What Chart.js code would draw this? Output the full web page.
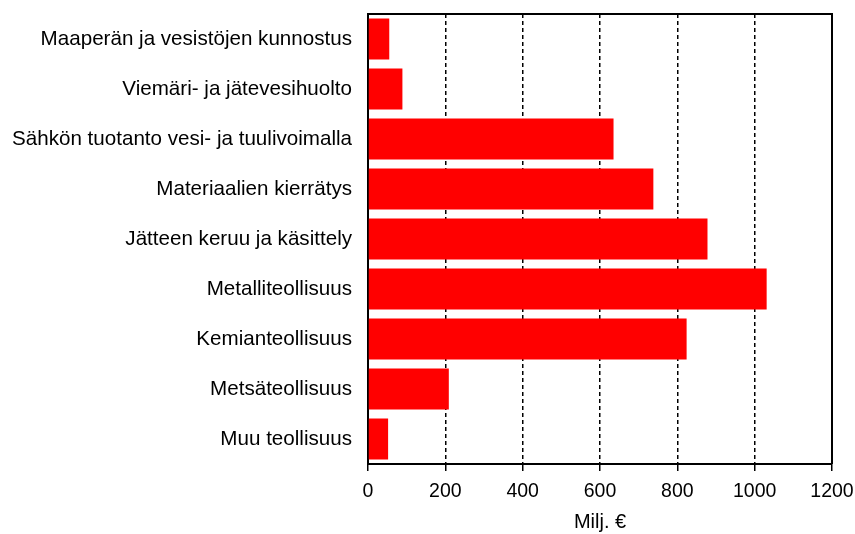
<!DOCTYPE html>
<html>
<head>
<meta charset="utf-8">
<script src="https://cdn.jsdelivr.net/npm/chart.js@4.4.1/dist/chart.umd.min.js"></script>
<style>
  html, body { margin: 0; padding: 0; background: #fff; }
  canvas { display: block; }
</style>
</head>
<body>
<canvas id="c" width="855" height="534"></canvas>
<script>
// luokat ja arvot (milj. €), luettu kuvasta
const categories = [
  'Maaperän ja vesistöjen kunnostus',
  'Viemäri- ja jätevesihuolto',
  'Sähkön tuotanto vesi- ja tuulivoimalla',
  'Materiaalien kierrätys',
  'Jätteen keruu ja käsittely',
  'Metalliteollisuus',
  'Kemianteollisuus',
  'Metsäteollisuus',
  'Muu teollisuus'
];
const values = [55, 89, 635, 738, 878, 1031, 824, 209, 52];
const xTicks = [0, 200, 400, 600, 800, 1000, 1200];
const axisTitle = 'Milj. €';

const FONT = '"Liberation Sans", Arial, sans-serif';

// kehys ylä- ja oikealle reunalle
const frame = {
  id: 'frame',
  afterDraw(chart) {
    const { ctx, chartArea: a } = chart;
    ctx.save();
    ctx.strokeStyle = '#000';
    ctx.lineWidth = 2;
    ctx.beginPath();
    ctx.moveTo(a.left, a.top);
    ctx.lineTo(a.right, a.top);
    ctx.lineTo(a.right, a.bottom);
    ctx.stroke();
    ctx.restore();
  }
};

new Chart(document.getElementById('c'), {
  type: 'bar',
  data: {
    labels: categories,
    datasets: [{
      data: values,
      backgroundColor: '#ff0000',
      borderColor: '#ff0000',
      borderWidth: 0,
      barPercentage: 0.82,
      categoryPercentage: 1
    }]
  },
  options: {
    indexAxis: 'y',
    animation: false,
    responsive: false,
    maintainAspectRatio: false,
    layout: { padding: { left: 0, right: 23, top: 14, bottom: 0 } },
    plugins: { legend: { display: false }, tooltip: { enabled: false } },
    scales: {
      x: {
        min: 0, max: 1200,
        afterBuildTicks: s => { s.ticks = xTicks.map(v => ({ value: v })); },
        afterFit: s => { s.height = 70; s.paddingLeft = 0; s.paddingRight = 0; },
        grid: {
          color: c => (c.tick && (c.tick.value === 0 || c.tick.value === 1200)) ? 'rgba(0,0,0,0)' : '#000',
          lineWidth: 1.5,
          tickColor: '#000',
          tickLength: 7,
          tickWidth: 1.5
        },
        border: { display: true, color: '#000', width: 2, dash: [4, 3] },
        ticks: { color: '#000', font: { family: FONT, size: 19.5 }, padding: 9, maxRotation: 0, callback: v => String(v) },
        title: { display: true, text: axisTitle, color: '#000', font: { family: FONT, size: 20 }, padding: { top: 0, bottom: 0 } }
      },
      y: {
        afterFit: s => { s.width = 368; s.paddingTop = 0; s.paddingBottom = 0; },
        grid: { display: false, drawTicks: false },
        border: { display: true, color: '#000', width: 2 },
        ticks: { color: '#000', font: { family: FONT, size: 20.6 }, padding: 16 }
      }
    }
  },
  plugins: [frame]
});
</script>
</body>
</html>
